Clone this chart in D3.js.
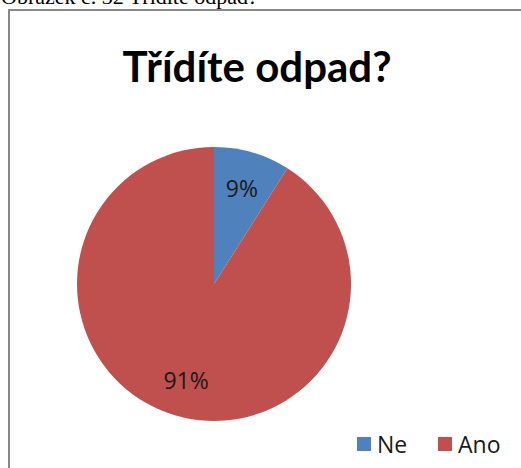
<!DOCTYPE html>
<html>
<head>
<meta charset="utf-8">
<script src="https://cdn.jsdelivr.net/npm/d3@7"></script>
<style>
  body { margin: 0; background: #fff; }
  svg { display: block; }
</style>
</head>
<body>
<div id="chart"></div>
<script>
var categories = ["Ne", "Ano"];
var values = [9, 91];
var colors = ["#4F81BD", "#C0504D"];

var width = 521,
    height = 468;

var svg = d3.select("#chart")
    .append("svg")
    .attr("width", width)
    .attr("height", height);

// caption cut off at top of the picture
svg.append("text")
    .attr("x", 1)
    .attr("y", 4)
    .attr("font-family", "Liberation Serif, serif")
    .attr("font-size", 22)
    .attr("fill", "#000")
    .text("Obrázek č. 32 Třídíte odpad?");

// chart border
svg.append("rect")
    .attr("x", 9)
    .attr("y", 10)
    .attr("width", width + 10)
    .attr("height", height + 10)
    .attr("fill", "none")
    .attr("stroke", "#888")
    .attr("stroke-width", 2);

svg.append("text")
    .attr("x", 257)
    .attr("y", 82)
    .attr("text-anchor", "middle")
    .attr("font-family", "Lato, sans-serif")
    .attr("font-weight", "bold")
    .attr("font-size", 42)
    .attr("fill", "#000")
    .text("Třídíte odpad?");

var cx = 214, cy = 284, radius = 137;

var pie = d3.pie().sort(null).value(function (d) { return d; });
var arc = d3.arc().innerRadius(0).outerRadius(radius);
var labelArc = d3.arc().innerRadius(100).outerRadius(100);

var g = svg.append("g")
    .attr("transform", "translate(" + cx + "," + cy + ")");

var slices = pie(values);

g.selectAll("path")
    .data(slices)
    .enter().append("path")
    .attr("d", arc)
    .attr("fill", function (d, i) { return colors[i]; });

g.selectAll(".lbl")
    .data(slices)
    .enter().append("text")
    .attr("class", "lbl")
    .attr("transform", function (d) {
        var c = labelArc.centroid(d);
        return "translate(" + c[0] + "," + c[1] + ")";
    })
    .attr("text-anchor", "middle")
    .attr("dominant-baseline", "central")
    .attr("font-family", "Open Sans, sans-serif")
    .attr("font-size", 23)
    .attr("fill", "#1a1a1a")
    .text(function (d) { return d.data + "%"; });

// legend
var legendX = [357, 438];
var legend = svg.selectAll(".legend")
    .data(categories)
    .enter().append("g")
    .attr("class", "legend")
    .attr("transform", function (d, i) { return "translate(" + legendX[i] + ",437)"; });

legend.append("rect")
    .attr("width", 14)
    .attr("height", 14)
    .attr("fill", function (d, i) { return colors[i]; });

legend.append("text")
    .attr("x", 20)
    .attr("y", 7)
    .attr("dominant-baseline", "central")
    .attr("font-family", "Open Sans, sans-serif")
    .attr("font-size", 23)
    .attr("fill", "#1a1a1a")
    .text(function (d) { return d; });
</script>
</body>
</html>
